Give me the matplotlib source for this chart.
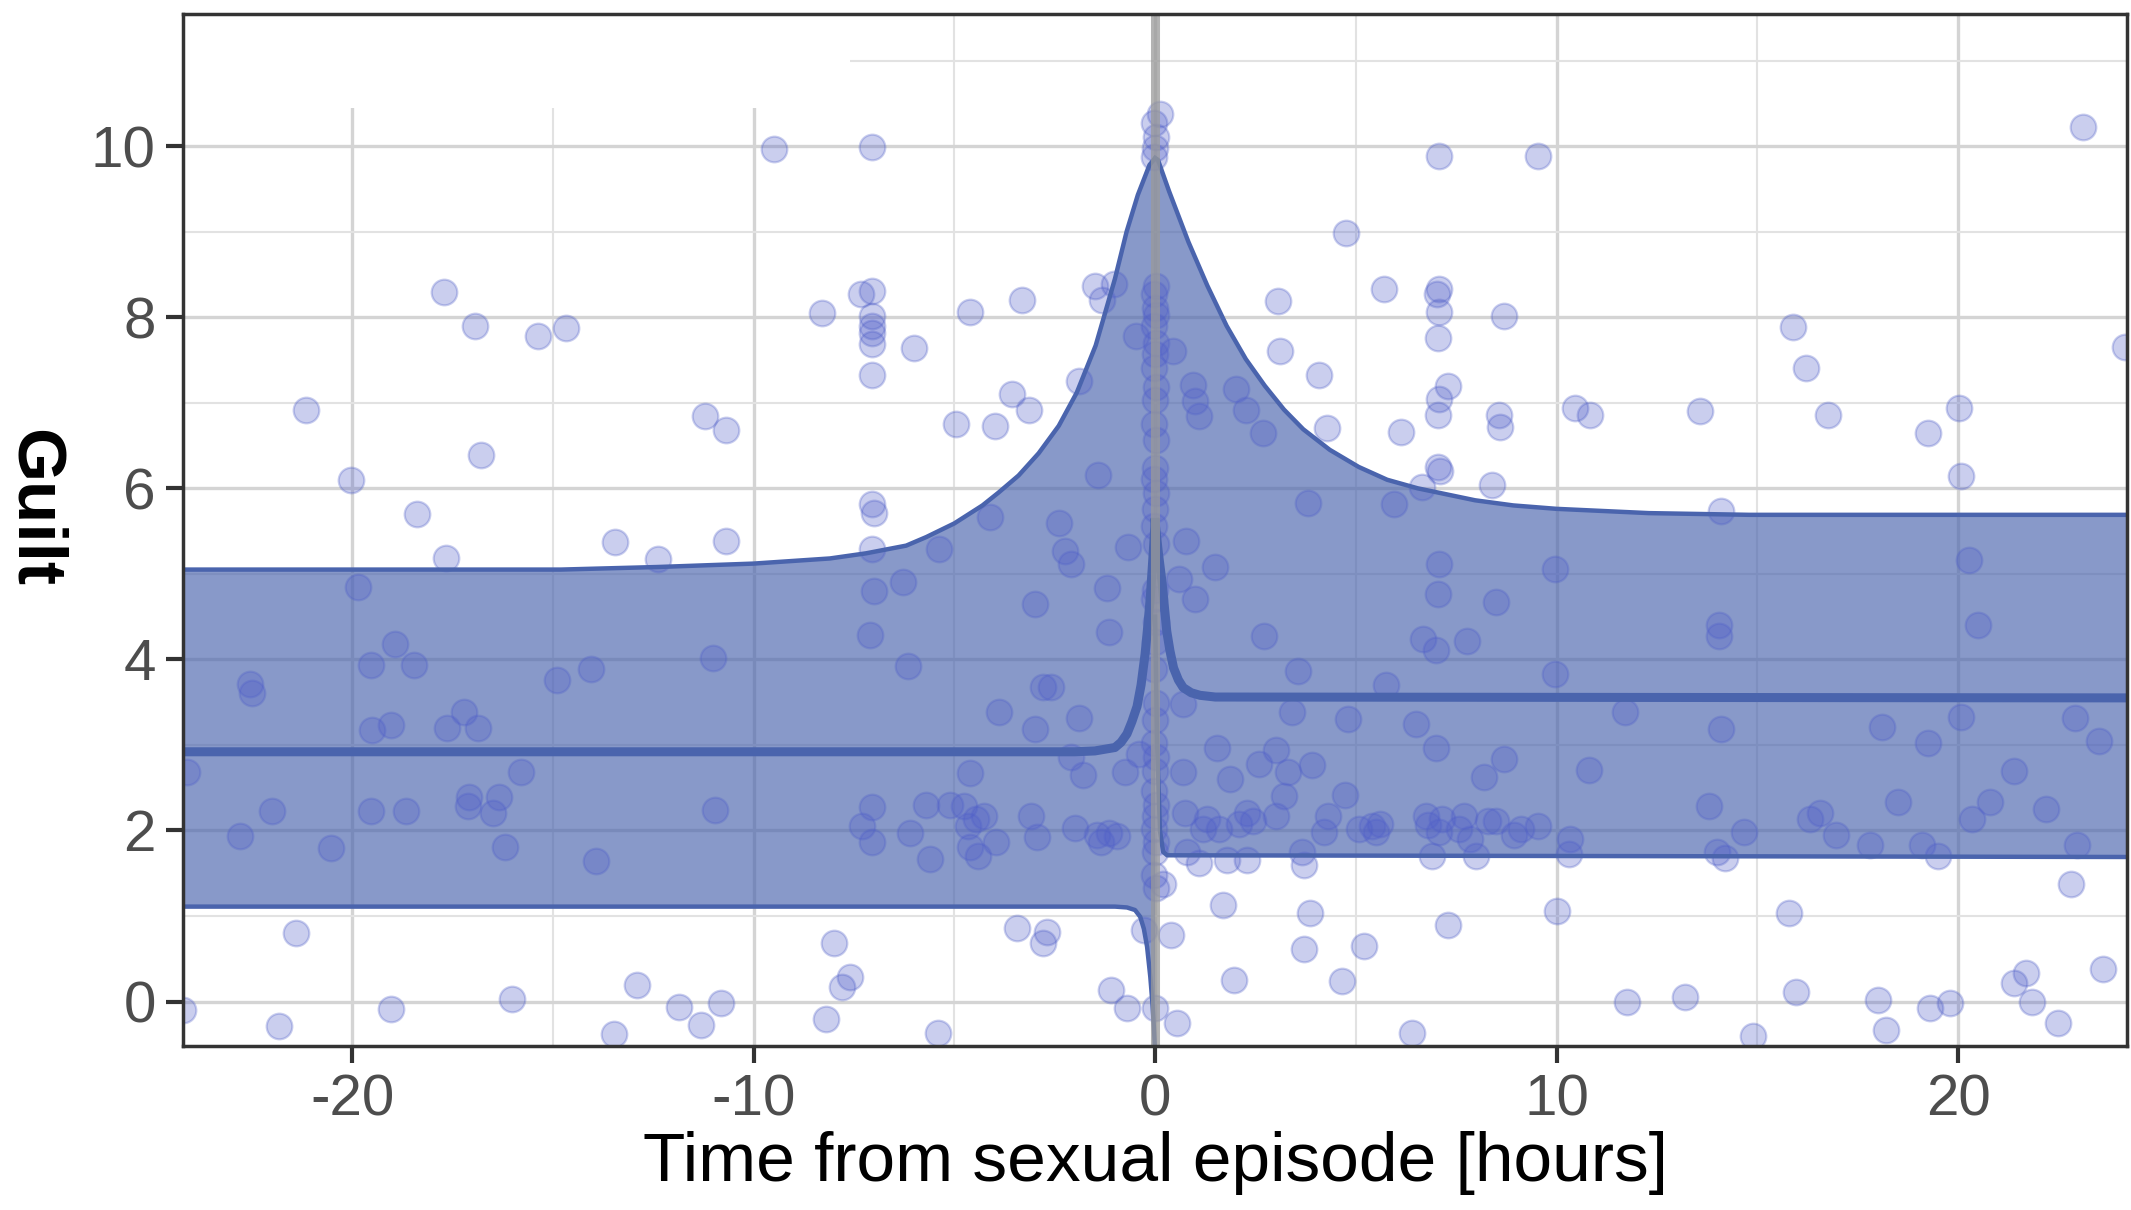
import matplotlib.pyplot as plt
from matplotlib.patches import Rectangle

plt.rcParams['font.family'] = ['Liberation Sans', 'DejaVu Sans']
plt.rcParams['axes.unicode_minus'] = False

# fitted curve and band before the episode
pre_high_t = [-24.2, -14.8, -12.4, -10, -8.1, -7.2, -6.2, -5.7, -5.0, -4.3, -3.9, -3.4, -2.9, -2.4,
              -1.95, -1.48, -1.0, -0.71, -0.43, -0.14, 0]
pre_high = [5.05, 5.05, 5.08, 5.12, 5.18, 5.24, 5.33, 5.43, 5.59, 5.8, 5.95, 6.15, 6.41, 6.73,
            7.12, 7.67, 8.45, 9.0, 9.43, 9.78, 9.86]
pre_fit_t = [-24.2, -2.0, -1.5, -1.0, -0.85, -0.7, -0.58, -0.45, -0.35, -0.25, -0.18, -0.12, -0.06, 0]
pre_fit = [2.92, 2.92, 2.93, 2.97, 3.03, 3.13, 3.27, 3.45, 3.7, 4.06, 4.4, 4.72, 5.15, 5.6]
pre_low_t = [-24.2, -1.0, -0.7, -0.5, -0.37, -0.28, -0.2, -0.12, -0.07, -0.03, 0]
pre_low = [1.11, 1.11, 1.1, 1.07, 0.99, 0.85, 0.64, 0.29, 0.0, -0.3, -0.6]

# fitted curve and band after the episode
post_high_t = [0, 0.07, 0.35, 0.83, 1.3, 1.78, 2.26, 2.73, 3.21, 3.69, 4.35, 5.07, 5.78, 6.54,
               7.97, 8.92, 10.0, 12.3, 14.8, 24.2]
post_high = [9.86, 9.84, 9.47, 8.88, 8.37, 7.9, 7.51, 7.2, 6.92, 6.69, 6.45, 6.25, 6.1, 6.0,
             5.86, 5.8, 5.76, 5.71, 5.69, 5.69]
post_fit_t = [0, 0.08, 0.17, 0.29, 0.37, 0.46, 0.58, 0.7, 0.9, 1.12, 1.5, 24.2]
post_fit = [5.6, 5.25, 4.91, 4.33, 4.1, 3.9, 3.76, 3.67, 3.61, 3.58, 3.56, 3.55]
post_low_t = [0, 0.05, 0.12, 0.2, 0.3, 24.2]
post_low = [4.5, 3.0, 2.0, 1.75, 1.71, 1.69]

# observations (hours, guilt)
obs_before = [
    (-24.2, -0.1), (-24.1, 2.68), (-22.55, 3.71), (-22.5, 3.61), (-22.78, 1.93), (-22.0, 2.23),
    (-21.82, -0.29), (-21.39, 0.8), (-21.16, 6.92), (-20.52, 1.79), (-20.02, 6.1), (-19.86, 4.85),
    (-19.53, 3.94), (-19.5, 3.18), (-19.52, 2.23), (-19.02, -0.09), (-19.03, 3.23), (-18.92, 4.18),
    (-18.66, 2.23), (-18.47, 3.93), (-18.38, 5.7), (-17.72, 8.29), (-17.65, 5.19), (-17.63, 3.2),
    (-17.22, 3.38), (-17.1, 2.39), (-17.12, 2.29), (-16.93, 7.9), (-16.86, 3.2), (-16.79, 6.39),
    (-16.5, 2.21), (-16.35, 2.39), (-16.19, 1.81), (-16.02, 0.03), (-15.8, 2.68), (-15.36, 7.78),
    (-14.68, 7.875), (-14.9, 3.76), (-14.06, 3.89), (-13.93, 1.64), (-13.45, 5.375), (-13.47, -0.38),
    (-12.91, 0.19), (-12.39, 5.17), (-11.87, -0.06), (-11.3, -0.27), (-11.2, 6.84), (-11.0, 4.02),
    (-10.95, 2.24), (-10.7, 6.68), (-10.7, 5.38), (-10.8, -0.02),
    (-9.5, 9.97), (-8.3, 8.05), (-8.0, 0.68), (-8.2, -0.2), (-7.8, 0.17), (-7.6, 0.29), (-7.3, 2.05),
    (-7.33, 8.27), (-7.05, 9.99), (-7.05, 8.31), (-7.05, 8.02), (-7.05, 7.9), (-7.05, 7.82),
    (-7.05, 7.69), (-7.05, 7.33), (-7.05, 5.82), (-7.0, 5.71), (-7.05, 5.29), (-7.0, 4.8),
    (-7.1, 4.29), (-7.05, 2.27), (-7.05, 1.86), (-6.15, 3.92), (-6.0, 7.64), (-6.29, 4.9),
    (-6.1, 1.97), (-5.7, 2.3), (-5.6, 1.67), (-5.4, -0.37), (-5.38, 5.29), (-5.1, 2.3), (-4.95, 6.75),
    (-4.62, 8.06), (-4.75, 2.29), (-4.65, 2.05), (-4.45, 2.13), (-4.6, 1.81), (-4.4, 1.7), (-4.6, 2.67),
    (-4.26, 2.17), (-4.1, 5.67), (-4.0, 6.73), (-3.9, 3.38), (-3.97, 1.86), (-3.57, 7.1), (-3.45, 0.86),
    (-3.31, 8.2), (-3.14, 6.92), (-3.1, 2.17), (-3.0, 4.65), (-3.0, 3.19), (-2.8, 0.68), (-2.7, 0.81),
    (-2.8, 3.68), (-2.6, 3.68), (-2.95, 1.92), (-2.4, 5.6), (-2.24, 5.27), (-2.1, 5.12), (-2.1, 2.86),
    (-2.0, 2.03), (-1.9, 7.25), (-1.9, 3.32), (-1.8, 2.65), (-1.5, 8.37), (-1.33, 8.2), (-1.02, 8.39),
    (-1.45, 1.95), (-1.43, 6.16), (-1.35, 1.86), (-1.15, 1.97), (-1.19, 4.84), (-1.15, 4.32),
    (-1.1, 0.13), (-0.95, 1.94), (-0.67, 5.31), (-0.75, 2.68), (-0.7, -0.08), (-0.48, 7.78),
    (-0.4, 2.89), (-0.27, 0.84),
]

obs_at_zero = [
    (-0.03, 10.27), (0.03, 10.11), (0.0, 9.98), (-0.02, 9.87), (0.02, 8.37), (-0.03, 8.27),
    (0.0, 8.11), (0.03, 8.03), (-0.02, 7.9), (0.02, 7.7), (0.0, 7.57), (-0.03, 7.41), (0.03, 7.19),
    (0.0, 7.03), (-0.02, 6.75), (0.02, 6.56), (0.0, 6.24), (-0.03, 6.11), (0.03, 5.95), (0.0, 5.76),
    (-0.02, 5.56), (0.02, 5.35), (0.0, 4.81), (-0.03, 4.71), (0.03, 4.44), (0.0, 4.2), (-0.02, 3.89),
    (0.02, 3.49), (0.0, 3.29), (-0.03, 3.02), (0.03, 2.86), (0.0, 2.7), (-0.02, 2.46), (0.02, 2.3),
    (0.0, 2.17), (-0.03, 2.02), (0.03, 1.87), (0.0, 1.75), (-0.02, 1.48), (0.02, 1.33), (0.0, -0.08),
]

obs_after = [
    (0.13, 10.38), (0.2, 1.38), (0.4, 0.78), (0.55, -0.25), (0.45, 7.6), (0.76, 5.38), (0.59, 4.94),
    (0.7, 3.48), (0.7, 2.68), (0.75, 2.21), (0.95, 7.21), (1.0, 7.02), (1.1, 6.84), (1.0, 4.71),
    (0.8, 1.75), (1.1, 1.62), (1.2, 2.02), (1.28, 2.14), (1.5, 5.08), (1.55, 2.97), (1.6, 2.02),
    (1.7, 1.13), (1.86, 2.6), (1.8, 1.65), (1.96, 0.25), (2.02, 7.16), (2.26, 6.92), (2.1, 2.08),
    (2.3, 2.21), (2.43, 2.11), (2.3, 1.65), (2.6, 2.78), (2.7, 4.27), (2.69, 6.65), (3.0, 2.17),
    (3.07, 8.19), (3.12, 7.6), (3.0, 2.94), (3.2, 2.4), (3.3, 2.68), (3.4, 3.38), (3.55, 3.86),
    (3.65, 1.75), (3.72, 1.6), (3.72, 0.62), (3.8, 5.83), (3.85, 1.03), (3.9, 2.76), (4.07, 7.33),
    (4.28, 6.7), (4.2, 1.98), (4.3, 2.17), (4.76, 8.99), (4.66, 0.24), (4.73, 2.41), (4.8, 3.3),
    (5.07, 2.02), (5.2, 0.65), (5.4, 2.05), (5.5, 1.98), (5.6, 2.08), (5.69, 8.33), (5.75, 3.7),
    (5.94, 5.82), (6.13, 6.66), (6.4, -0.37), (6.5, 3.24), (6.64, 6.02), (6.67, 4.24), (6.74, 2.17),
    (6.8, 2.06), (6.9, 1.7), (7.07, 9.88), (7.07, 8.33), (7.02, 8.27), (7.07, 8.06), (7.05, 7.76),
    (7.07, 7.04), (7.05, 6.86), (7.05, 6.25), (7.1, 6.2), (7.07, 5.12), (7.05, 4.76), (7.0, 4.11),
    (7.0, 2.97), (7.07, 1.98), (7.14, 2.13), (7.29, 7.2), (7.3, 0.9), (7.57, 2.02), (7.7, 2.17),
    (7.77, 4.22), (7.84, 1.9), (8.0, 1.7), (8.2, 2.62), (8.3, 2.11), (8.38, 6.04), (8.5, 4.67),
    (8.5, 2.11), (8.56, 6.86), (8.6, 6.72), (8.69, 8.02), (8.7, 2.84), (8.95, 1.95), (9.12, 2.02),
    (9.54, 9.88), (9.53, 2.05), (9.97, 5.06), (9.97, 3.83), (10.0, 1.06), (10.3, 1.73), (10.34, 1.9),
    (10.45, 6.94), (10.83, 6.86), (10.8, 2.71), (11.7, 3.38), (11.75, 0.0), (13.2, 0.05), (13.57, 6.9),
    (13.8, 2.29), (14.0, 1.75), (14.2, 1.68), (14.1, 5.73), (14.05, 4.4), (14.05, 4.27), (14.1, 3.19),
    (14.66, 1.98), (14.9, -0.4), (15.8, 1.03), (15.9, 7.89), (15.95, 0.11), (16.2, 7.41), (16.3, 2.13),
    (16.55, 2.21), (16.75, 6.86), (16.96, 1.95), (17.8, 1.83), (18.0, 0.02), (18.1, 3.21),
    (18.2, -0.33), (18.5, 2.33), (19.1, 1.83), (19.26, 6.65), (19.26, 3.02), (19.3, -0.08), (19.5, 1.7),
    (19.8, -0.02), (20.03, 6.94), (20.07, 6.14), (20.07, 3.33), (20.27, 5.16), (20.34, 2.13),
    (20.5, 4.4), (20.8, 2.33), (21.4, 2.7), (21.4, 0.22), (21.7, 0.33), (21.85, 0.0), (22.2, 2.25),
    (22.5, -0.25), (22.8, 1.37), (22.9, 3.32), (22.97, 1.83), (23.1, 10.22), (23.5, 3.05),
    (23.6, 0.38), (24.15, 7.65),
]

x_major = [-20, -10, 0, 10, 20]
x_minor = [-15, -5, 5, 15]
y_major = [0, 2, 4, 6, 8, 10]
y_minor = [1, 3, 5, 7, 9, 11]

line_col = '#4a64ad'
point_col = '#505fc8'

fig = plt.figure(figsize=(21.31, 12.10), dpi=100)
ax = fig.add_axes([0.0861, 0.1355, 0.9119, 0.8533])

ax.set_xlim(-24.2, 24.2)
ax.set_ylim(-0.52, 11.55)
ax.set_xticks(x_major)
ax.set_xticks(x_minor, minor=True)
ax.set_yticks(y_major)
ax.set_yticks(y_minor, minor=True)

ax.set_axisbelow(True)
ax.grid(which='major', color='#d4d4d4', lw=2.4)
ax.grid(which='minor', color='#e2e2e2', lw=1.5)

# blank patch in the top-left corner of the original panel
ax.add_patch(Rectangle((-24.2, 10.45), 16.6, 1.2, facecolor='white', edgecolor='none', zorder=1))

bands = [(pre_low_t, pre_low, pre_high_t, pre_high), (post_low_t, post_low, post_high_t, post_high)]
for lo_t, lo, hi_t, hi in bands:
    ax.fill(list(hi_t) + list(lo_t)[::-1], list(hi) + list(lo)[::-1],
            color=line_col, alpha=0.66, lw=0, zorder=2)

obs = obs_before + obs_at_zero + obs_after
ax.scatter([p[0] for p in obs], [p[1] for p in obs], s=340, color=point_col,
           alpha=0.3, linewidths=1.6, zorder=3)

for lo_t, lo, hi_t, hi in bands:
    ax.plot(lo_t, lo, color=line_col, lw=3.2, zorder=4)
    ax.plot(hi_t, hi, color=line_col, lw=3.2, zorder=4)
ax.plot(pre_fit_t, pre_fit, color=line_col, lw=6.5, zorder=4)
ax.plot(post_fit_t, post_fit, color=line_col, lw=6.5, zorder=4)

ax.axvline(0, color='#9a9a9a', lw=6.5, alpha=0.75, zorder=5)

for s in ax.spines.values():
    s.set_color('#333333')
    s.set_linewidth(2.5)
    s.set_zorder(6)

ax.tick_params(which='major', length=12, width=3, color='#333333',
               labelsize=42, labelcolor='#4d4d4d', pad=8)
ax.tick_params(which='minor', length=0)

ax.set_xlabel('Time from sexual episode [hours]', fontsize=50, color='black', labelpad=2)
fig.text(0.016, 0.58, 'Guilt', rotation=270, fontsize=50, fontweight='bold',
         ha='center', va='center')

fig.savefig('out.png', dpi=100)
